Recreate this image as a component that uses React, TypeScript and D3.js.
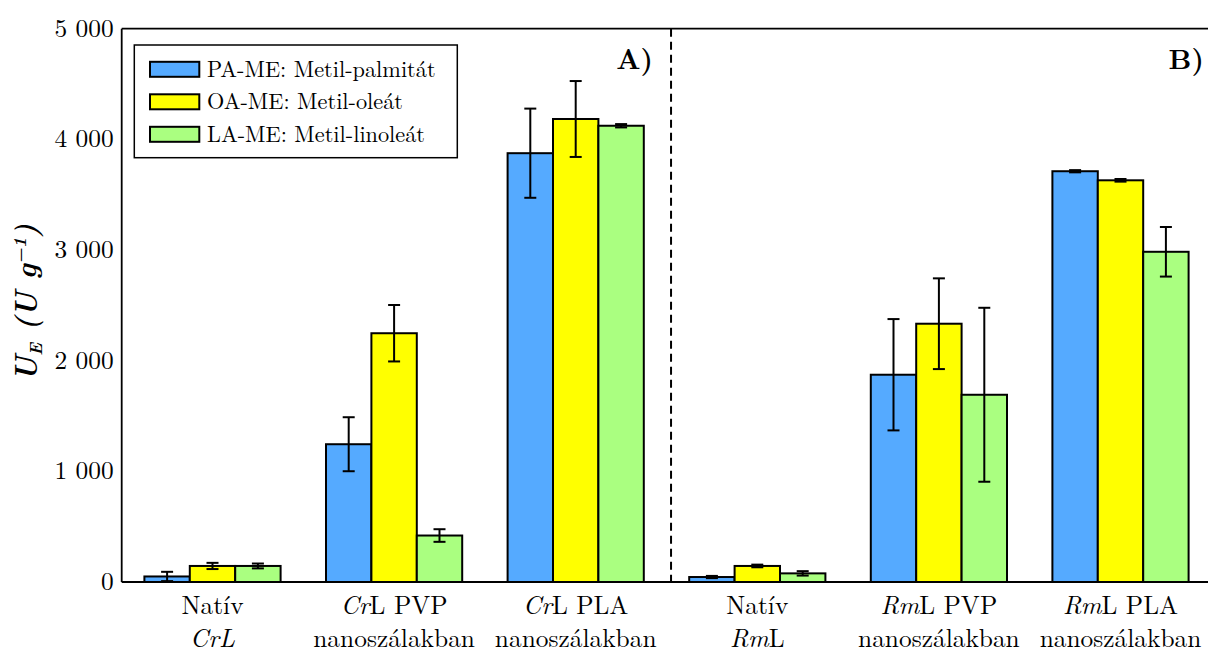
import React from "react";
import * as d3 from "d3";

const categories = ["Natív CrL", "CrL PVP", "CrL PLA", "Natív RmL", "RmL PVP", "RmL PLA"];
// label lines: segments [text, italic]
const labelLine1: [string, boolean][][] = [
  [["Natív", false]],
  [["Cr", true], ["L PVP", false]],
  [["Cr", true], ["L PLA", false]],
  [["Natív", false]],
  [["Rm", true], ["L PVP", false]],
  [["Rm", true], ["L PLA", false]],
];
const labelLine2: [string, boolean][][] = [
  [["CrL", true]],
  [["nanoszálakban", false]],
  [["nanoszálakban", false]],
  [["Rm", true], ["L", false]],
  [["nanoszálakban", false]],
  [["nanoszálakban", false]],
];

const seriesNames = ["PA-ME: Metil-palmitát", "OA-ME: Metil-oleát", "LA-ME: Metil-linoleát"];
const seriesColors = ["#55aaff", "#ffff00", "#aaff80"];
const paValues = [50, 1245, 3875, 45, 1873, 3712];
const oaValues = [145, 2248, 4184, 145, 2334, 3630];
const laValues = [145, 420, 4123, 78, 1692, 2984];
const paErrors = [42, 244, 403, 10, 503, 10];
const oaErrors = [28, 255, 343, 12, 410, 12];
const laErrors = [22, 57, 15, 20, 786, 224];
const yTicks = [0, 1000, 2000, 3000, 4000, 5000];
const dividerPos = 2.525;

const W = 1208;
const H = 653;
const left = 121.7;
const right = 1211.3;
const top = 28.7;
const bottom = 582;

const FONT = "\"Latin Modern Roman\", \"Liberation Serif\", serif";
const fs = { fontFamily: FONT };

export default function App() {
  const x = d3.scaleLinear().domain([-0.5, 5.5]).range([left, right]);
  const y = d3.scaleLinear().domain([0, 5000]).range([bottom, top]);
  const values = [paValues, oaValues, laValues];
  const errors = [paErrors, oaErrors, laErrors];
  const barW = 0.25;
  const fmt = (v: number) => d3.format(",")(v).replace(/,/g, " ");
  const capHalf = 6;

  return (
    <svg width={W} height={H} style={{ position: "absolute", left: 0, top: 0, background: "#fff", fontFamily: FONT }}>
      {/* bars */}
      {values.map((vals, s) =>
        vals.map((v, i) => {
          const x0 = x(i - 0.375 + s * barW);
          const x1 = x(i - 0.375 + (s + 1) * barW);
          return (
            <rect key={`b${s}-${i}`} x={x0} y={y(v)} width={x1 - x0} height={y(0) - y(v)}
              fill={seriesColors[s]} stroke="#000" strokeWidth={2} />
          );
        })
      )}
      {/* error bars */}
      {values.map((vals, s) =>
        vals.map((v, i) => {
          const cx = x(i - 0.375 + (s + 0.5) * barW);
          const e = errors[s][i];
          const y0 = y(v - e);
          const y1 = y(v + e);
          return (
            <g key={`e${s}-${i}`} stroke="#000" strokeWidth={2}>
              <line x1={cx} x2={cx} y1={y0} y2={y1} />
              <line x1={cx - capHalf} x2={cx + capHalf} y1={y0} y2={y0} />
              <line x1={cx - capHalf} x2={cx + capHalf} y1={y1} y2={y1} />
            </g>
          );
        })
      )}
      {/* divider */}
      <line x1={x(dividerPos)} x2={x(dividerPos)} y1={top} y2={bottom} stroke="#000" strokeWidth={2} strokeDasharray="8,5" />
      {/* frame */}
      <line x1={left} x2={W} y1={top} y2={top} stroke="#000" strokeWidth={1.8} />
      <line x1={left} x2={W} y1={bottom} y2={bottom} stroke="#000" strokeWidth={1.8} />
      <line x1={left} x2={left} y1={top} y2={bottom} stroke="#000" strokeWidth={1.8} />
      {/* y ticks */}
      {yTicks.map((t) => (
        <text key={t} x={left - 8} y={y(t)} dy="0.32em" textAnchor="end" fontSize={25.4} fill="#000" style={fs}>
          {fmt(t)}
        </text>
      ))}
      {/* x labels */}
      {categories.map((c, i) => (
        <g key={c}>
          <text x={x(i)} y={613.5} textAnchor="middle" fontSize={25.4} fill="#000" style={fs}>
            {labelLine1[i].map(([t, it], k) => (
              <tspan key={k} fontStyle={it ? "italic" : "normal"}>{t}</tspan>
            ))}
          </text>
          <text x={x(i)} y={647} textAnchor="middle" fontSize={25.4} fill="#000" style={fs}>
            {labelLine2[i].map(([t, it], k) => (
              <tspan key={k} fontStyle={it ? "italic" : "normal"}>{t}</tspan>
            ))}
          </text>
        </g>
      ))}
      {/* y label */}
      <text transform={`translate(36, 302.5) rotate(-90)`} textAnchor="middle" fontSize={29} fontWeight="bold" fontStyle="italic" fill="#000" style={fs}>
        <tspan>U</tspan>
        <tspan fontSize={17} dy={6}>E</tspan>
        <tspan dy={-6}> (U g</tspan>
        <tspan fontSize={18} dy={-10}>−1</tspan>
        <tspan dy={10}>)</tspan>
      </text>
      {/* panel labels */}
      <text x={653} y={68.5} textAnchor="end" fontSize={28} fontWeight="bold" fill="#000" style={fs}>A)</text>
      <text x={1204} y={69} textAnchor="end" fontSize={28} fontWeight="bold" fill="#000" style={fs}>B)</text>
      {/* legend */}
      <rect x={134.3} y={45} width={323} height={112.7} fill="#fff" stroke="#000" strokeWidth={1.5} />
      {seriesNames.map((n, s) => {
        const cy = 69.3 + s * 32.5;
        return (
          <g key={n}>
            <rect x={150} y={cy - 7.5} width={49.3} height={15} fill={seriesColors[s]} stroke="#000" strokeWidth={2} />
            <text x={207} y={cy + 7.4} fontSize={22.3} fill="#000" style={fs}>{n}</text>
          </g>
        );
      })}
    </svg>
  );
}
